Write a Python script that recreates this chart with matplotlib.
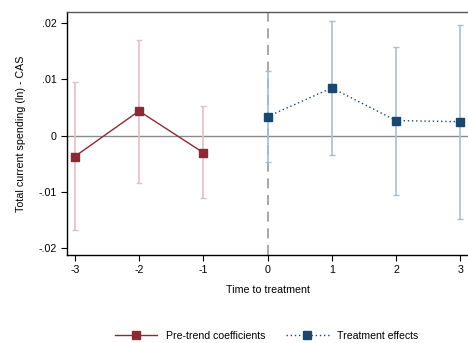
import matplotlib
matplotlib.use("Agg")
import matplotlib.pyplot as plt
from matplotlib.lines import Line2D

plt.rcParams['font.family'] = ['Liberation Sans', 'DejaVu Sans']

pre_x = [-3, -2, -1]
pre_coef = [-0.0037, 0.0044, -0.0030]
pre_lo = [-0.0168, -0.0084, -0.0111]
pre_hi = [0.0095, 0.0171, 0.0052]

post_x = [0, 1, 2, 3]
post_coef = [0.0034, 0.0085, 0.0027, 0.0025]
post_lo = [-0.0047, -0.0035, -0.0105, -0.0148]
post_hi = [0.0115, 0.0204, 0.0158, 0.0197]

yticks = [-0.02, -0.01, 0, 0.01, 0.02]
ytick_labels = ['-.02', '-.01', '0', '.01', '.02']
xticks = [-3, -2, -1, 0, 1, 2, 3]

red = '#8C2A35'
red_light = '#E3C0C5'
blue = '#1A476F'
blue_light = '#A9BDD0'

fs = 7.7

fig = plt.figure(figsize=(4.68, 3.43), dpi=100)
ax = fig.add_axes([0.1432, 0.2566, 0.8568, 0.7084])

ax.axhline(0, color='#8a8a8a', lw=1.0, zorder=1)
ax.axvline(0, color='#999999', lw=1.2, ls=(0, (6, 4)), zorder=1)

ax.errorbar(pre_x, pre_coef,
            yerr=[[c - l for c, l in zip(pre_coef, pre_lo)], [h - c for c, h in zip(pre_coef, pre_hi)]],
            fmt='none', ecolor=red_light, elinewidth=1.2, capsize=2.3, capthick=1.0, zorder=2)
ax.errorbar(post_x, post_coef,
            yerr=[[c - l for c, l in zip(post_coef, post_lo)], [h - c for c, h in zip(post_coef, post_hi)]],
            fmt='none', ecolor=blue_light, elinewidth=1.2, capsize=2.3, capthick=1.0, zorder=2)

ax.plot(pre_x, pre_coef, color=red, lw=1.0, marker='s', ms=6, zorder=3)
ax.plot(post_x, post_coef, color=blue, lw=1.0, ls=(0, (1, 2)), marker='s', ms=6, zorder=3)

ax.set_xlim(-3.12, 3.12)
ax.set_ylim(-0.0212, 0.0220)
ax.set_yticks(yticks)
ax.set_yticklabels(ytick_labels)
ax.set_xticks(xticks)
ax.set_xticklabels([str(x) for x in xticks])
ax.tick_params(labelsize=fs, length=4, width=0.8, color='black')

ax.spines['right'].set_visible(False)
for s in ['left', 'bottom']:
    ax.spines[s].set_linewidth(1.0)
ax.spines['top'].set_linewidth(1.0)
ax.spines['top'].set_color('#555555')

ax.set_xlabel('Time to treatment', fontsize=fs, labelpad=7)
ax.set_ylabel('Total current spending (ln) - CAS', fontsize=fs, labelpad=9)

handles = [Line2D([], [], color=red, lw=1.0, marker='s', ms=6),
           Line2D([], [], color=blue, lw=1.0, ls=(0, (1, 2)), marker='s', ms=6)]
fig.legend(handles, ['Pre-trend coefficients', 'Treatment effects'],
           loc='center', bbox_to_anchor=(0.57, 0.02), ncol=2, frameon=False,
           fontsize=7.6, handlelength=4.0, columnspacing=2.0)

fig.savefig('out.png', dpi=100)
